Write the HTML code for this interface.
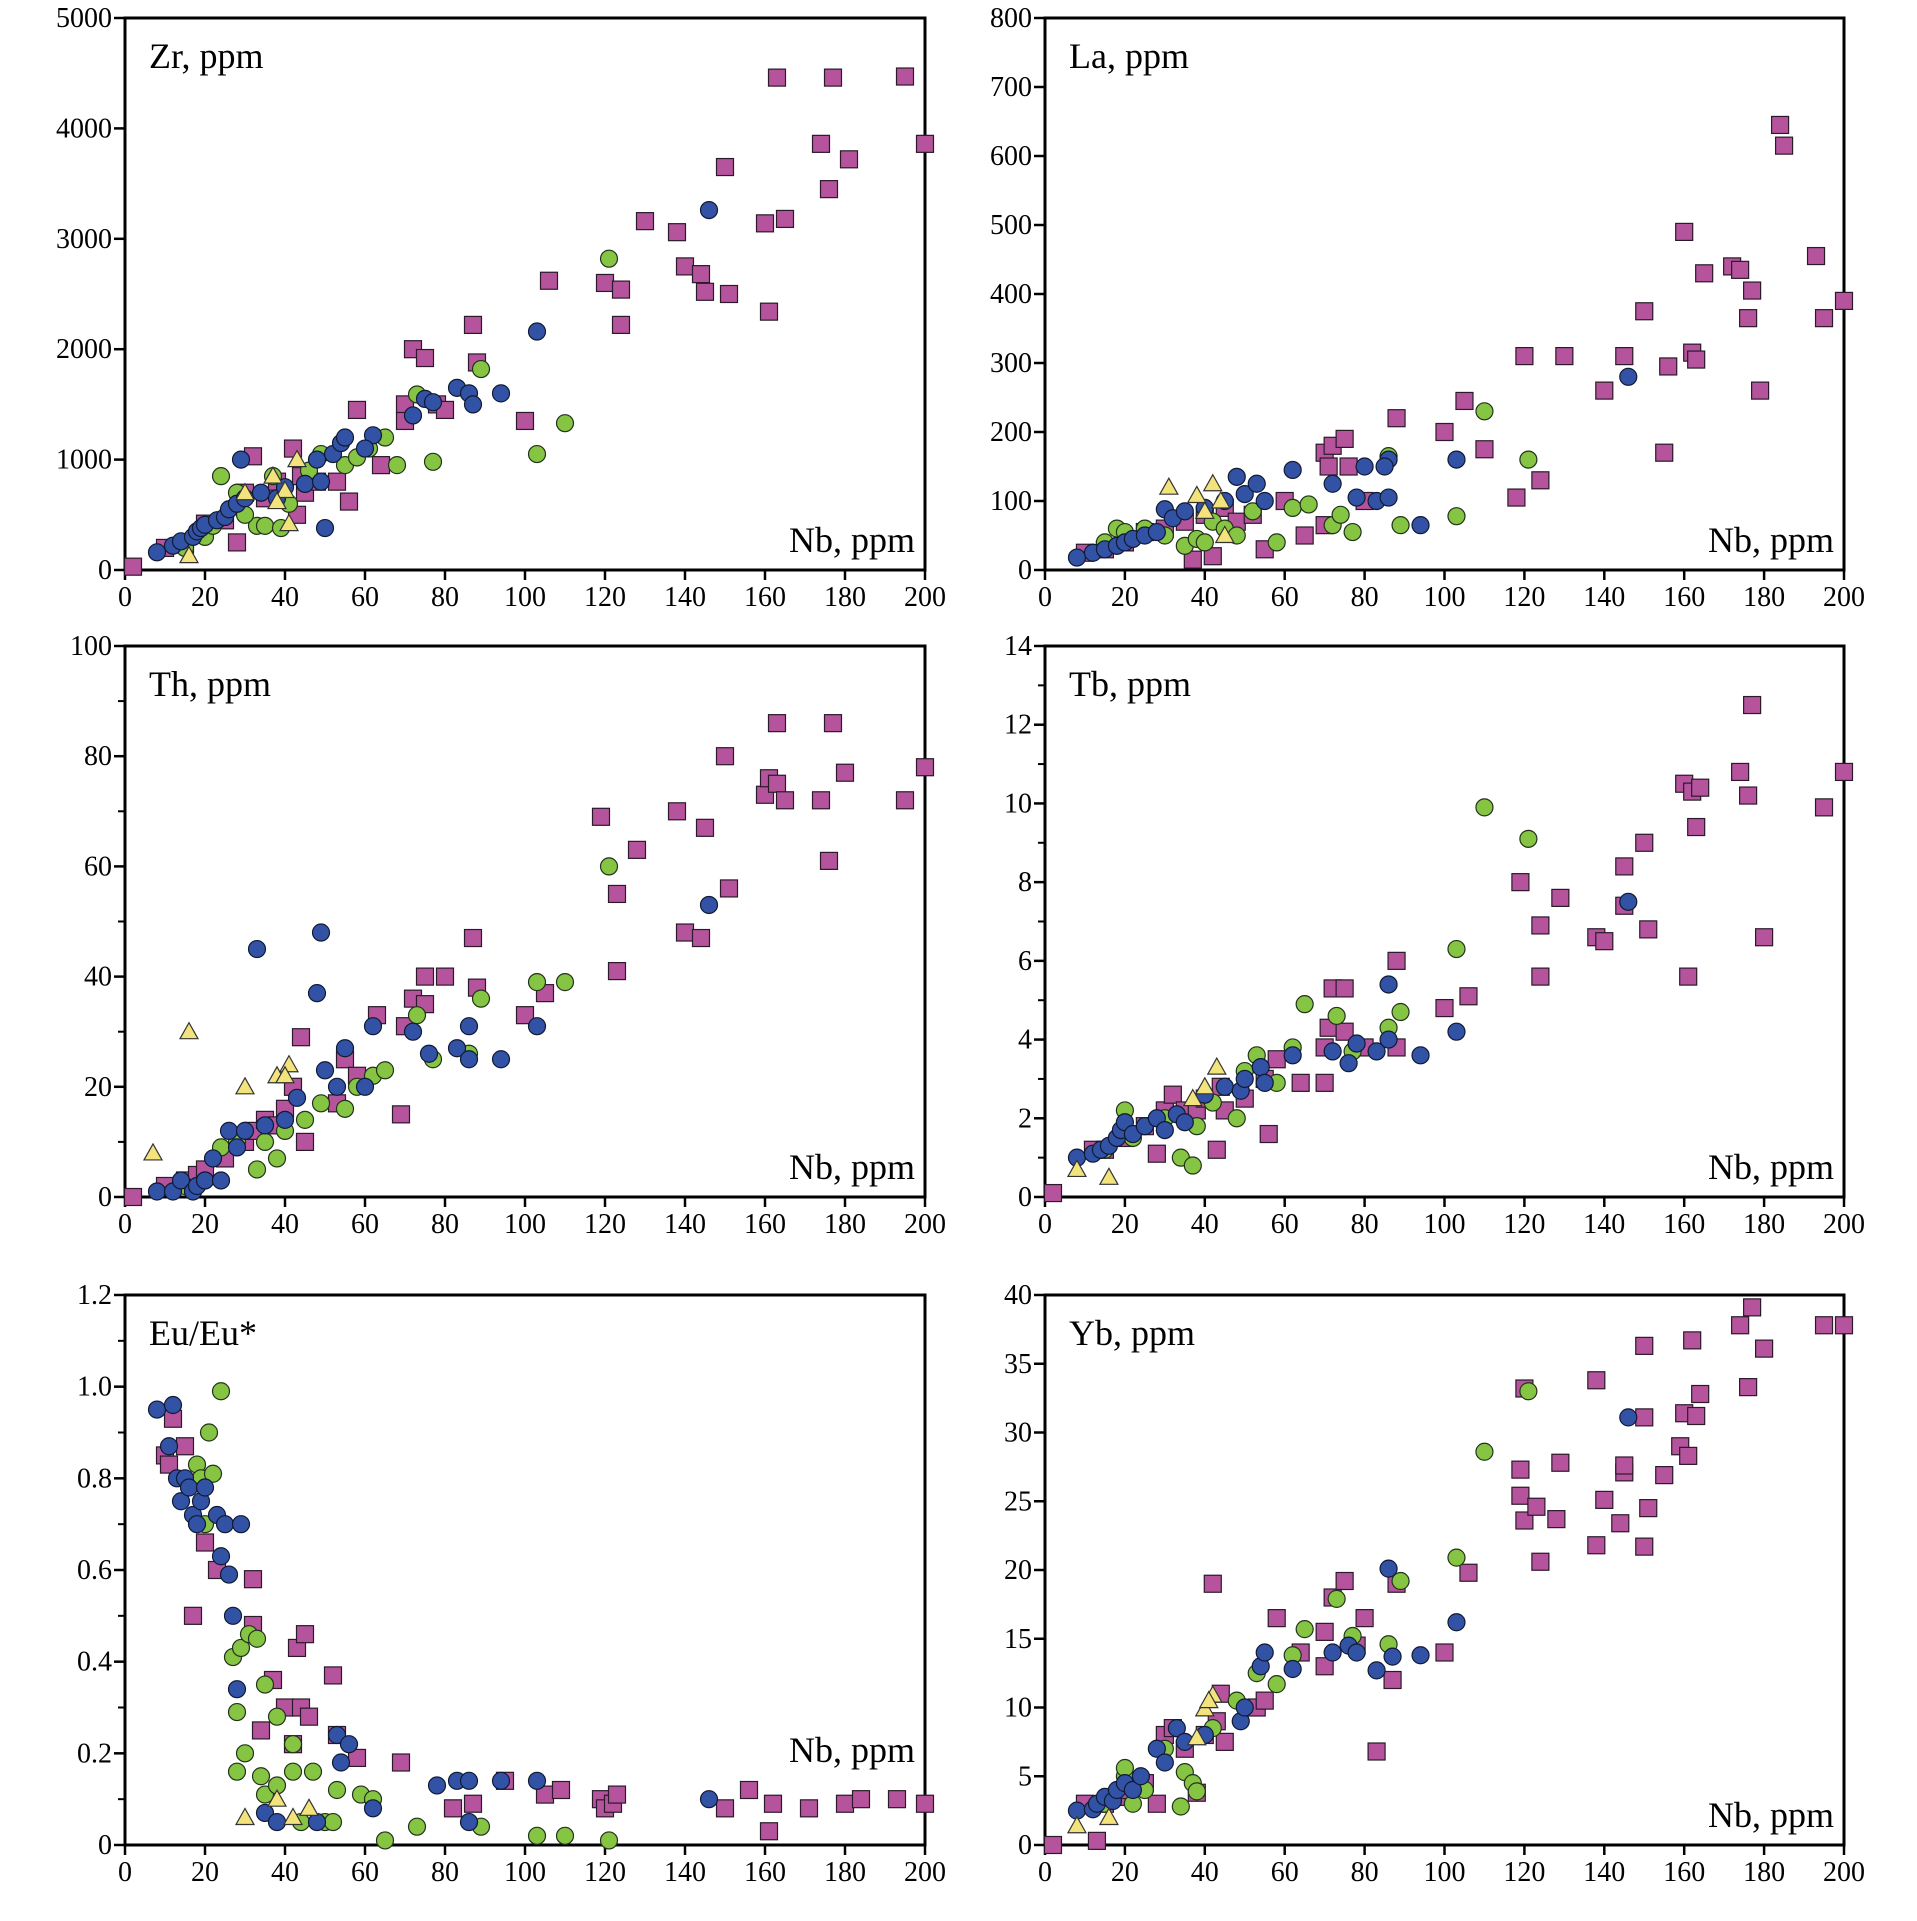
<!DOCTYPE html>
<html><head><meta charset="utf-8"><title>Nb variation diagrams</title>
<style>
html,body{margin:0;padding:0;background:#fff;}
svg{display:block;}
svg text{font-family:"Liberation Serif","DejaVu Serif",serif;}
</style></head>
<body>
<svg id="chart" width="1917" height="1921" viewBox="0 0 1917 1921" xmlns="http://www.w3.org/2000/svg"></svg>
<script>
// ---- data: [Nb, value] pairs ----
const zrSquares=[[2,30],[10,200],[15,230],[20,420],[25,450],[28,250],[30,700],[32,1030],[35,650],[38,800],[42,1100],[43,500],[44,850],[45,700],[48,800],[53,800],[56,620],[58,1450],[64,950],[70,1500],[70,1350],[72,2000],[75,1920],[78,1500],[80,1450],[87,2220],[88,1880],[100,1350],[106,2620],[120,2600],[124,2540],[124,2220],[130,3160],[138,3060],[140,2750],[144,2680],[145,2520],[150,3650],[151,2500],[160,3140],[161,2340],[163,4460],[165,3180],[174,3860],[176,3450],[177,4460],[181,3720],[195,4470],[200,3860]];
const zrBlue=[[8,160],[12,220],[14,260],[17,300],[18,350],[19,380],[20,410],[23,450],[25,480],[26,550],[28,600],[29,1000],[30,650],[34,700],[38,650],[40,750],[45,780],[49,800],[50,380],[52,1050],[54,1150],[55,1200],[62,1220],[72,1400],[75,1550],[77,1520],[83,1650],[86,1600],[87,1500],[94,1600],[103,2160],[146,3260],[60,1100],[48,1000]];
const zrGreen=[[15,200],[20,300],[22,400],[24,850],[28,700],[33,400],[35,400],[37,850],[39,380],[41,600],[49,1050],[55,950],[58,1020],[61,1100],[65,1200],[68,950],[73,1590],[77,980],[89,1820],[103,1050],[110,1330],[121,2820],[46,900],[30,500]];
const zrTri=[[16,130],[30,700],[37,850],[40,720],[41,420],[43,1000],[38,620]];

const laSquares=[[10,25],[15,30],[20,40],[25,55],[30,60],[35,70],[37,15],[40,80],[42,20],[45,90],[48,70],[52,80],[55,30],[60,100],[65,50],[70,65],[70,170],[71,150],[72,180],[75,190],[76,150],[80,100],[88,220],[100,200],[105,245],[110,175],[118,105],[120,310],[124,130],[130,310],[140,260],[145,310],[150,375],[155,170],[156,295],[160,490],[162,315],[163,305],[165,430],[172,440],[174,435],[176,365],[177,405],[179,260],[184,645],[185,615],[193,455],[195,365],[200,390]];
const laBlue=[[8,18],[12,25],[15,30],[18,35],[20,40],[22,45],[25,50],[28,55],[30,88],[32,75],[35,85],[40,90],[45,100],[48,135],[50,110],[53,125],[55,100],[62,145],[72,125],[78,105],[80,150],[83,100],[86,160],[86,105],[94,65],[103,160],[146,280],[85,150]];
const laGreen=[[15,40],[18,60],[20,55],[25,60],[30,50],[35,35],[38,45],[40,40],[42,70],[45,60],[48,50],[52,85],[58,40],[62,90],[66,95],[72,65],[74,80],[77,55],[86,165],[89,65],[103,78],[110,230],[121,160]];
const laTri=[[31,120],[38,108],[40,85],[42,125],[44,100],[45,50]];

const thSquares=[[2,0],[10,2],[15,3],[18,4],[20,5],[25,7],[30,10],[32,12],[35,14],[38,13],[40,16],[42,20],[44,29],[45,10],[53,17],[55,25],[58,22],[63,33],[69,15],[70,31],[72,36],[75,40],[75,35],[80,40],[87,47],[88,38],[100,33],[105,37],[119,69],[123,55],[123,41],[128,63],[138,70],[140,48],[144,47],[145,67],[150,80],[151,56],[160,73],[161,76],[163,86],[163,75],[165,72],[174,72],[176,61],[177,86],[180,77],[195,72],[200,78]];
const thBlue=[[8,1],[12,1],[14,3],[17,1],[18,2],[20,3],[22,7],[24,3],[26,12],[28,9],[30,12],[33,45],[35,13],[40,14],[43,18],[48,37],[49,48],[50,23],[53,20],[55,27],[62,31],[72,30],[76,26],[83,27],[86,31],[86,25],[94,25],[103,31],[146,53],[60,20]];
const thGreen=[[15,2],[20,3],[24,9],[28,10],[33,5],[35,10],[38,7],[45,14],[49,17],[55,16],[58,20],[62,22],[65,23],[73,33],[77,25],[86,26],[89,36],[103,39],[110,39],[121,60],[40,12]];
const thTri=[[7,8],[16,30],[30,20],[38,22],[41,24],[40,22]];

const tbSquares=[[2,0.1],[12,1.2],[15,1.2],[20,1.5],[25,1.8],[28,1.1],[30,2.2],[32,2.6],[35,2.2],[38,2.2],[40,2.5],[43,1.2],[44,2.8],[45,2.2],[50,2.5],[55,3.0],[56,1.6],[58,3.5],[64,2.9],[70,2.9],[70,3.8],[71,4.3],[72,5.3],[75,5.3],[75,4.2],[80,3.8],[88,3.8],[88,6.0],[100,4.8],[106,5.1],[119,8.0],[124,6.9],[124,5.6],[129,7.6],[138,6.6],[140,6.5],[145,7.4],[145,8.4],[150,9.0],[151,6.8],[160,10.5],[161,5.6],[162,10.3],[163,9.4],[164,10.4],[174,10.8],[176,10.2],[177,12.5],[180,6.6],[195,9.9],[200,10.8]];
const tbBlue=[[8,1],[12,1.1],[14,1.2],[16,1.3],[18,1.5],[19,1.7],[20,1.9],[22,1.6],[25,1.8],[28,2.0],[30,1.7],[33,2.1],[35,1.9],[40,2.6],[45,2.8],[49,2.7],[50,3.0],[54,3.3],[55,2.9],[62,3.6],[72,3.7],[76,3.4],[78,3.9],[83,3.7],[86,5.4],[86,4.0],[94,3.6],[103,4.2],[146,7.5]];
const tbGreen=[[15,1.2],[20,2.2],[22,1.5],[30,2.0],[34,1.0],[37,0.8],[38,1.8],[42,2.4],[48,2.0],[50,3.2],[53,3.6],[58,2.9],[62,3.8],[65,4.9],[73,4.6],[77,3.7],[86,4.3],[89,4.7],[103,6.3],[110,9.9],[121,9.1]];
const tbTri=[[8,0.7],[16,0.5],[40,2.8],[43,3.3],[37,2.5]];

const euSquares=[[10,0.85],[11,0.83],[12,0.93],[15,0.87],[17,0.5],[20,0.66],[23,0.6],[32,0.58],[32,0.48],[34,0.25],[37,0.36],[40,0.3],[42,0.22],[43,0.43],[44,0.3],[45,0.46],[46,0.28],[52,0.37],[53,0.24],[58,0.19],[69,0.18],[82,0.08],[87,0.09],[95,0.14],[105,0.11],[109,0.12],[119,0.1],[120,0.08],[122,0.09],[123,0.11],[150,0.08],[156,0.12],[161,0.03],[162,0.09],[171,0.08],[180,0.09],[184,0.1],[193,0.1],[200,0.09]];
const euBlue=[[8,0.95],[12,0.96],[11,0.87],[13,0.8],[14,0.75],[15,0.8],[16,0.78],[17,0.72],[18,0.7],[19,0.75],[20,0.78],[23,0.72],[24,0.63],[25,0.7],[26,0.59],[27,0.5],[29,0.7],[28,0.34],[35,0.07],[38,0.05],[53,0.24],[54,0.18],[56,0.22],[62,0.08],[78,0.13],[83,0.14],[86,0.14],[86,0.05],[94,0.14],[103,0.14],[146,0.1],[48,0.05]];
const euGreen=[[18,0.83],[19,0.8],[20,0.7],[21,0.9],[22,0.81],[24,0.99],[27,0.41],[28,0.29],[29,0.43],[30,0.2],[28,0.16],[31,0.46],[33,0.45],[34,0.15],[35,0.35],[35,0.11],[38,0.28],[38,0.13],[42,0.16],[42,0.22],[47,0.16],[50,0.05],[53,0.12],[59,0.11],[62,0.1],[65,0.01],[73,0.04],[89,0.04],[103,0.02],[110,0.02],[121,0.01],[44,0.05],[52,0.05]];
const euTri=[[30,0.06],[38,0.1],[42,0.06],[46,0.08]];

const ybSquares=[[2,0],[10,3],[13,0.3],[15,3],[18,3.5],[20,4],[25,4.5],[28,3],[30,8],[32,8.5],[35,7],[38,3.8],[40,8],[42,19],[43,9],[44,11],[45,7.5],[53,10],[55,10.5],[58,16.5],[64,14],[70,13],[70,15.5],[72,18],[75,19.2],[78,14.5],[80,16.5],[83,6.8],[87,12],[88,19],[100,14],[106,19.8],[119,27.3],[119,25.4],[120,23.6],[120,33.2],[123,24.6],[124,20.6],[128,23.7],[129,27.8],[138,21.8],[138,33.8],[140,25.1],[144,23.4],[145,27.1],[145,27.6],[150,21.7],[150,31.1],[150,36.3],[151,24.5],[155,26.9],[159,29],[160,31.4],[161,28.3],[162,36.7],[163,31.2],[164,32.8],[174,37.8],[176,33.3],[177,39.1],[180,36.1],[195,37.8],[200,37.8]];
const ybBlue=[[8,2.5],[12,2.6],[13,3],[15,3.5],[17,3.2],[18,4],[20,4.5],[22,4],[24,5],[28,7],[30,6],[33,8.5],[35,7.5],[40,8],[49,9],[50,10],[54,13],[55,14],[62,12.8],[72,14],[76,14.5],[78,14],[83,12.7],[86,20.1],[87,13.7],[94,13.8],[103,16.2],[146,31.1]];
const ybGreen=[[15,3],[20,5],[20,5.6],[22,3],[25,4],[30,7],[34,2.8],[35,5.3],[37,4.5],[38,3.9],[42,8.5],[48,10.5],[53,12.5],[58,11.7],[62,13.8],[65,15.7],[73,17.9],[77,15.2],[86,14.6],[89,19.2],[103,20.9],[110,28.6],[121,33]];
const ybTri=[[8,1.4],[16,2],[38,7.8],[40,9.9],[42,10.9],[41,10.5]];

const xTicks=[0,20,40,60,80,100,120,140,160,180,200];
const zrTicks=[0,1000,2000,3000,4000,5000];
const laTicks=[0,100,200,300,400,500,600,700,800];
const thTicks=[0,20,40,60,80,100];
const tbTicks=[0,2,4,6,8,10,12,14];
const euTicks=[0,0.2,0.4,0.6,0.8,1.0,1.2];
const ybTicks=[0,5,10,15,20,25,30,35,40];
const euTickLabels=["0","0.2","0.4","0.6","0.8","1.0","1.2"];

const panels=[
 {name:'zr',title:'Zr, ppm',L:125,R:925,T:18,B:570,ymax:5000,ticks:zrTicks,labels:null,minor:0,sq:zrSquares,bl:zrBlue,gr:zrGreen,tr:zrTri,nbY:18},
 {name:'la',title:'La, ppm',L:1045,R:1844,T:18,B:570,ymax:800,ticks:laTicks,labels:null,minor:0,sq:laSquares,bl:laBlue,gr:laGreen,tr:laTri,nbY:18},
 {name:'th',title:'Th, ppm',L:125,R:925,T:646,B:1197,ymax:100,ticks:thTicks,labels:null,minor:10,sq:thSquares,bl:thBlue,gr:thGreen,tr:thTri,nbY:18},
 {name:'tb',title:'Tb, ppm',L:1045,R:1844,T:646,B:1197,ymax:14,ticks:tbTicks,labels:null,minor:1,sq:tbSquares,bl:tbBlue,gr:tbGreen,tr:tbTri,nbY:18},
 {name:'eu',title:'Eu/Eu*',L:125,R:925,T:1295,B:1845,ymax:1.2,ticks:euTicks,labels:euTickLabels,minor:0.1,sq:euSquares,bl:euBlue,gr:euGreen,tr:euTri,nbY:83},
 {name:'yb',title:'Yb, ppm',L:1045,R:1844,T:1295,B:1845,ymax:40,ticks:ybTicks,labels:null,minor:0,sq:ybSquares,bl:ybBlue,gr:ybGreen,tr:ybTri,nbY:18}
];

const NS='http://www.w3.org/2000/svg';
const FONT='"Liberation Serif", serif';
const svg=document.getElementById('chart');
function mk(tag,attrs,parent){const e=document.createElementNS(NS,tag);for(const k in attrs)e.setAttribute(k,attrs[k]);parent.appendChild(e);return e;}

panels.forEach(p=>{
 const g=mk('g',{},svg);
 
 
 const sx=v=>p.L+(v/200)*(p.R-p.L);
 const sy=v=>p.B-(v/p.ymax)*(p.B-p.T);
 const fr=mk('rect',{x:p.L,y:p.T,width:p.R-p.L,height:p.B-p.T,fill:'none',stroke:'#000','stroke-width':3},g);
 
 
 xTicks.forEach(t=>{
  mk('line',{x1:sx(t),x2:sx(t),y1:p.B,y2:p.B+10,stroke:'#000','stroke-width':2.5},g);
  const tx=mk('text',{x:sx(t),y:p.B+36,'font-size':28,'font-family':FONT,'text-anchor':'middle',fill:'#000'},g);
  tx.textContent=t;
  
  
 });
 if(p.minor){
  const n=Math.round(p.ymax/p.minor);
  for(let i=1;i<n;i+=2){mk('line',{x1:p.L-7,x2:p.L,y1:sy(i*p.minor),y2:sy(i*p.minor),stroke:'#000','stroke-width':2},g);}
 }
 p.ticks.forEach((t,i)=>{
  mk('line',{x1:p.L-11,x2:p.L,y1:sy(t),y2:sy(t),stroke:'#000','stroke-width':2.5},g);
  const ty=mk('text',{x:p.L-13,y:sy(t)+9,'font-size':28,'font-family':FONT,'text-anchor':'end',fill:'#000'},g);
  ty.textContent=p.labels?p.labels[i]:t;
  
  
 });
 const tt=mk('text',{x:p.L+24,y:p.T+50,'font-size':36,'font-family':FONT,fill:'#000'},g);
 tt.textContent=p.title;
 
 
 const nb=mk('text',{x:p.R-10,y:p.B-p.nbY,'font-size':36,'font-family':FONT,'text-anchor':'end',fill:'#000'},g);
 nb.textContent='Nb, ppm';
 
 
 p.sq.forEach(d=>{
  const r=mk('rect',{x:sx(d[0])-8.5,y:sy(d[1])-8.5,width:17,height:17,fill:'#b5549c',stroke:'#2a1a2a','stroke-width':1.2},g);
  
  
 });
 p.gr.forEach(d=>{
  const c=mk('circle',{cx:sx(d[0]),cy:sy(d[1]),r:8.5,fill:'#86c443',stroke:'#22331a','stroke-width':1.2},g);
  
  
 });
 p.bl.forEach(d=>{
  const c=mk('circle',{cx:sx(d[0]),cy:sy(d[1]),r:8.5,fill:'#3252a6',stroke:'#111a33','stroke-width':1.2},g);
  
  
 });
 p.tr.forEach(d=>{
  const x=sx(d[0]),y=sy(d[1]);
  const t=mk('polygon',{points:`${x},${y-9} ${x+9},${y+7} ${x-9},${y+7}`,fill:'#f3e37c',stroke:'#333','stroke-width':1.2},g);
  
  
 });
});
</script>
</body></html>
